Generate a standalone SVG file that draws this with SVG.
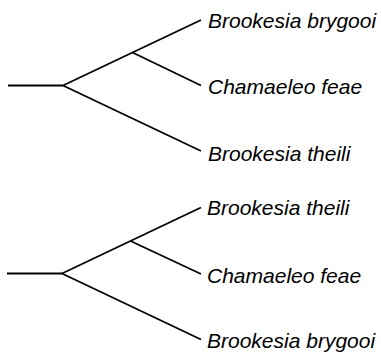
<svg xmlns="http://www.w3.org/2000/svg" width="381" height="355" viewBox="0 0 381 355">
  <style>
    .branch { fill: none; stroke: #000; stroke-width: 1.8; stroke-linecap: butt; stroke-linejoin: miter; }
    .taxon { font-family: "Liberation Sans", Arial, sans-serif; font-style: italic; font-size: 21px; fill: #000; }
  </style>

  <!-- Tree 1: ((Brookesia brygooi, Chamaeleo feae), Brookesia theili) -->
  <g id="tree1-branches" class="branch">
    <path d="M8,85.5 H63"/>
    <path d="M63,85.5 L201,20"/>
    <path d="M132.5,52.5 L201,85.5"/>
    <path d="M63,85.5 L201,151"/>
  </g>
  <g id="tree1-brygooi"><text class="taxon" x="208" y="28">Brookesia brygooi</text></g>
  <g id="tree1-feae"><text class="taxon" x="208" y="94">Chamaeleo feae</text></g>
  <g id="tree1-theili"><text class="taxon" x="208" y="161">Brookesia theili</text></g>

  <!-- Tree 2: ((Brookesia theili, Chamaeleo feae), Brookesia brygooi) -->
  <g id="tree2-branches" class="branch">
    <path d="M7,273.5 H62"/>
    <path d="M62,273.5 L201,207.5"/>
    <path d="M130.5,241 L201,274"/>
    <path d="M62,273.5 L201,339.5"/>
  </g>
  <g id="tree2-theili"><text class="taxon" x="207" y="215">Brookesia theili</text></g>
  <g id="tree2-feae"><text class="taxon" x="207" y="283">Chamaeleo feae</text></g>
  <g id="tree2-brygooi"><text class="taxon" x="207" y="348">Brookesia brygooi</text></g>
</svg>
